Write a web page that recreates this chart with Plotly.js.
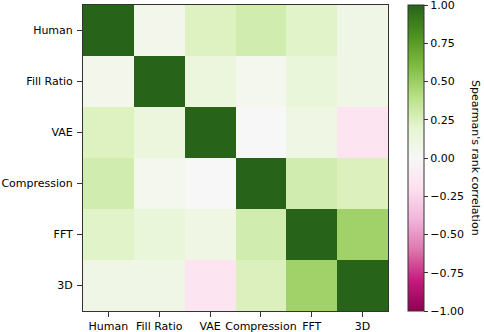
<!DOCTYPE html>
<html>
<head>
<meta charset="utf-8">
<script src="https://cdn.plot.ly/plotly-3.0.1.min.js"></script>
<style>html,body{margin:0;padding:0;background:#fff;}#chart{width:484px;height:332px;}</style>
</head>
<body>
<div id="chart"></div>
<script>
const labels = ["Human", "Fill Ratio", "VAE", "Compression", "FFT", "3D"];
const row_human = [1.00, 0.06, 0.24, 0.29, 0.22, 0.09];
const row_fill = [0.06, 1.00, 0.14, 0.05, 0.15, 0.09];
const row_vae = [0.24, 0.14, 1.00, 0.00, 0.10, -0.16];
const row_comp = [0.29, 0.05, 0.00, 1.00, 0.29, 0.25];
const row_fft = [0.22, 0.15, 0.10, 0.29, 1.00, 0.48];
const row_3d = [0.09, 0.09, -0.16, 0.25, 0.48, 1.00];
const cbTicks = [-1, -0.75, -0.5, -0.25, 0, 0.25, 0.5, 0.75, 1];
const cbTitle = "Spearman's rank correlation";

const piyg = ['#8e0152','#c51b7d','#de77ae','#f1b6da','#fde0ef','#f7f7f7','#e6f5d0','#b8e186','#7fbc41','#4d9221','#276419'];
const colorscale = piyg.map((c, i) => [i / (piyg.length - 1), c]);

const font = {family: 'DejaVu Sans, sans-serif', size: 11, color: '#000'};
const cbText = cbTicks.map(v => (v < 0 ? '\u2212' : '') + Math.abs(v).toFixed(2));

Plotly.newPlot('chart', [{
  type: 'heatmap',
  x: labels,
  y: labels,
  z: [row_human, row_fill, row_vae, row_comp, row_fft, row_3d],
  zmin: -1, zmax: 1,
  colorscale: colorscale,
  xgap: 0, ygap: 0,
  hoverinfo: 'skip',
  colorbar: {
    x: 1.0656, xanchor: 'left', xpad: 0,
    y: 0.5, yanchor: 'middle', ypad: 0,
    len: 1, lenmode: 'fraction',
    thickness: 16, thicknessmode: 'pixels',
    outlinewidth: 1, outlinecolor: '#333',
    tickmode: 'array', tickvals: cbTicks, ticktext: cbText,
    ticks: 'outside', ticklen: 4, tickcolor: '#333',
    ticklabeloverflow: 'allow',
    tickfont: font,
    automargin: false
  }
}], {
  width: 484, height: 332,
  margin: {l: 83, r: 96, t: 5, b: 21, autoexpand: false},
  paper_bgcolor: '#fff', plot_bgcolor: '#fff',
  font: font,
  xaxis: {
    showline: true, mirror: true, linecolor: '#333', linewidth: 1,
    ticks: 'outside', ticklen: 5, tickcolor: '#333',
    tickfont: font, showgrid: false, zeroline: false, fixedrange: true,
    tickangle: 0
  },
  yaxis: {
    autorange: 'reversed',
    showline: true, mirror: true, linecolor: '#333', linewidth: 1,
    ticks: 'outside', ticklen: 5, tickcolor: '#333',
    ticklabelstandoff: 2,
    tickfont: font, showgrid: false, zeroline: false, fixedrange: true
  },
  annotations: [{
    text: cbTitle, textangle: 90, showarrow: false,
    xref: 'paper', yref: 'paper', x: 1.2885, y: 0.5,
    xanchor: 'center', yanchor: 'middle', font: font
  }]
}, {staticPlot: true, displayModeBar: false});
</script>
</body>
</html>
